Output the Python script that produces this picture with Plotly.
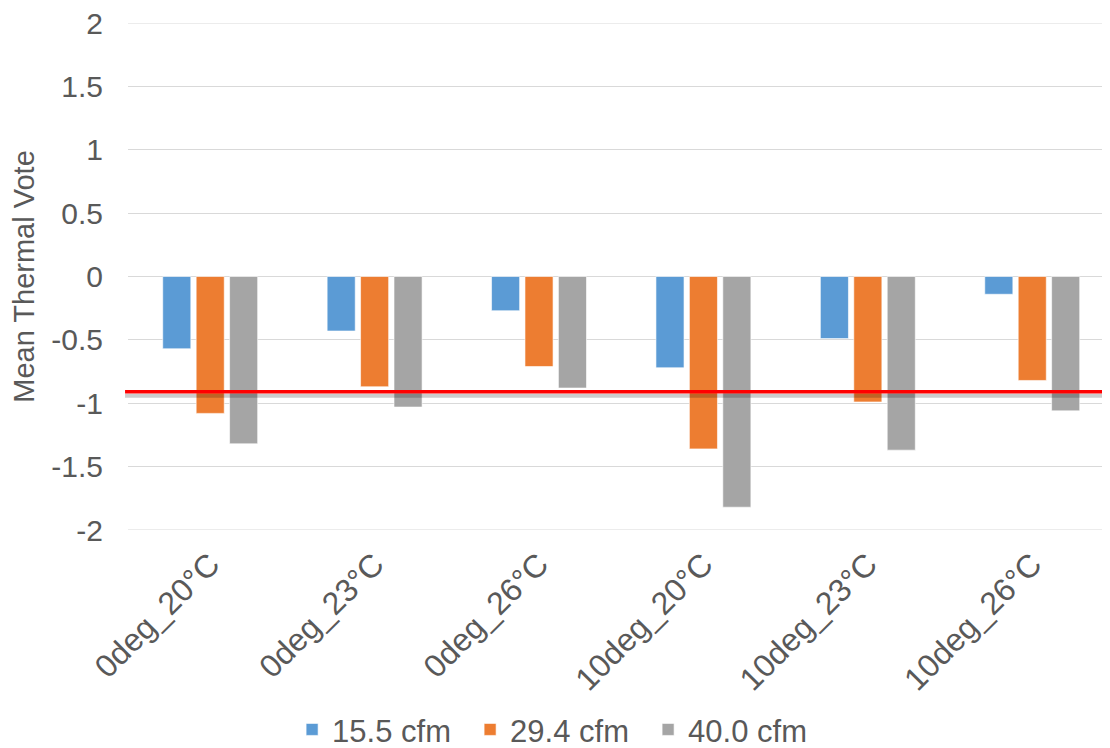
import plotly.graph_objects as go

categories = ["0deg_20°C", "0deg_23°C", "0deg_26°C", "10deg_20°C", "10deg_23°C", "10deg_26°C"]
series_names = ["15.5 cfm", "29.4 cfm", "40.0 cfm"]
cfm_15_5 = [-0.57, -0.43, -0.27, -0.72, -0.49, -0.14]
cfm_29_4 = [-1.08, -0.87, -0.71, -1.36, -0.99, -0.82]
cfm_40_0 = [-1.32, -1.03, -0.88, -1.82, -1.37, -1.06]
colors = ["#5B9BD5", "#ED7D31", "#A5A5A5"]
reference_value = -0.91
y_ticks = [2, 1.5, 1, 0.5, 0, -0.5, -1, -1.5, -2]
y_tick_labels = ["2", "1.5", "1", "0.5", "0", "-0.5", "-1", "-1.5", "-2"]

text_color = "#595959"
grid_color = "#D9D9D9"
font_family = "Liberation Sans, Arial, sans-serif"

fig = go.Figure()
for name, vals, col in zip(series_names, [cfm_15_5, cfm_29_4, cfm_40_0], colors):
    fig.add_trace(go.Bar(
        x=categories, y=vals, name=name,
        marker=dict(color=col, line=dict(color="rgba(255,255,255,0.6)", width=1)),
    ))

# gridlines at the range ends (plotly clips these)
for yv in (y_ticks[0], y_ticks[-1]):
    fig.add_shape(type="line", xref="paper", yref="y", x0=0, x1=1, y0=yv, y1=yv,
                  line=dict(color=grid_color, width=1), layer="below")

# shadow of the reference line
fig.add_shape(type="line", xref="paper", yref="y", x0=-0.003, x1=1, y0=reference_value - 0.03,
              y1=reference_value - 0.03, line=dict(color="rgba(0,0,0,0.2)", width=4), layer="above")
fig.add_shape(type="line", xref="paper", yref="y", x0=-0.003, x1=1, y0=reference_value,
              y1=reference_value, line=dict(color="#FF0000", width=3.5), layer="above")

fig.update_layout(
    width=1102, height=740,
    margin=dict(l=120, r=0, t=15, b=218, autoexpand=False),
    paper_bgcolor="white", plot_bgcolor="white",
    barmode="group", bargap=0.39, bargroupgap=0.16,
    font=dict(family=font_family, color=text_color, size=30),
    showlegend=True,
    legend=dict(orientation="h", x=0.439, xanchor="center", y=-0.394, yanchor="middle",
                font=dict(size=31, color=text_color), itemclick=False, traceorder="normal",
                itemwidth=30, tracegroupgap=0, entrywidth=133),
    xaxis=dict(range=[-0.5, 5.473], tickangle=-45, tickfont=dict(size=32, color=text_color),
               showgrid=False, showline=False, ticks="", automargin=False, ticklabelstandoff=8),
    yaxis=dict(range=[-2, 2], tickvals=y_ticks, ticktext=y_tick_labels,
               tickfont=dict(size=30, color=text_color), gridcolor=grid_color, gridwidth=1,
               zeroline=True, zerolinecolor=grid_color, zerolinewidth=1, showline=False,
               ticks="", ticklabelstandoff=24, automargin=False, ticklabeloverflow="allow",
               title=dict(text="Mean Thermal Vote", font=dict(size=29, color=text_color), standoff=10)),
)

fig.write_html("out.html")
